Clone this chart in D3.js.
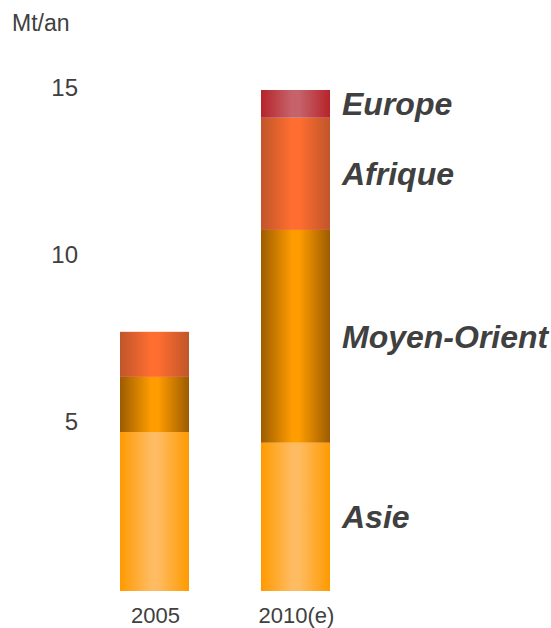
<!DOCTYPE html>
<html lang="fr">
<head>
<meta charset="UTF-8" />
<title>Mt/an</title>
<script src="https://d3js.org/d3.v7.min.js"></script>
<style>
  body { margin: 0; background: #fff; }
  text { font-family: "Liberation Sans", Arial, sans-serif; fill: #404040; }
</style>
</head>
<body>
<svg width="551" height="628"></svg>
<script>
// data (Mt/an)
var years = ["2005", "2010(e)"];
var regions = ["Asie", "Moyen-Orient", "Afrique", "Europe"];
var asie = [4.76, 4.44];
var moyenOrient = [1.65, 6.37];
var afrique = [1.35, 3.36];
var europe = [0, 0.83];
var yTicks = [5, 10, 15];

// gradient colours: [edge, centre]
var colors = {
  "Asie": ["#ff9a00", "#ffbb62"],
  "Moyen-Orient": ["#9c5c00", "#ff9c00"],
  "Afrique": ["#c0552a", "#ff6e30"],
  "Europe": ["#b6232a", "#c6636a"]
};

var table = years.map(function(y, i) {
  return { year: y, "Asie": asie[i], "Moyen-Orient": moyenOrient[i], "Afrique": afrique[i], "Europe": europe[i] };
});

var svg = d3.select("svg");

var x = d3.scaleBand().domain(years).range([120, 330]).paddingInner(72 / 141).paddingOuter(0);
var y = d3.scaleLinear().domain([0, 15]).range([591, 90]);

var defs = svg.append("defs");
regions.forEach(function(r, i) {
  var g = defs.append("linearGradient").attr("id", "grad" + i)
    .attr("x1", "0%").attr("x2", "100%").attr("y1", "0%").attr("y2", "0%");
  g.append("stop").attr("offset", "0%").attr("stop-color", colors[r][0]);
  g.append("stop").attr("offset", "45%").attr("stop-color", colors[r][1]);
  g.append("stop").attr("offset", "55%").attr("stop-color", colors[r][1]);
  g.append("stop").attr("offset", "100%").attr("stop-color", colors[r][0]);
});

var stacked = d3.stack().keys(regions)(table);

svg.append("g").selectAll("g")
  .data(stacked)
  .enter().append("g")
  .attr("fill", function(d, i) { return "url(#grad" + i + ")"; })
  .selectAll("rect")
  .data(function(d) { return d.filter(function(p) { return p[1] > p[0]; }); })
  .enter().append("rect")
  .attr("x", function(d) { return x(d.data.year); })
  .attr("y", function(d) { return y(d[1]); })
  .attr("width", x.bandwidth())
  .attr("height", function(d) { return y(d[0]) - y(d[1]); });

// segment labels beside the 2010 bar
svg.append("g").selectAll("text")
  .data(stacked)
  .enter().append("text")
  .attr("x", 342)
  .attr("y", function(d) { var p = d[1]; return y((p[0] + p[1]) / 2); })
  .attr("dy", "0.36em")
  .style("font-size", "32px")
  .style("font-weight", "bold")
  .style("font-style", "italic")
  .text(function(d) { return d.key; });

// y tick labels
svg.append("g").selectAll("text")
  .data(yTicks)
  .enter().append("text")
  .attr("x", 78)
  .attr("y", function(d) { return y(d) - 3; })
  .attr("dy", "0.36em")
  .attr("text-anchor", "end")
  .style("font-size", "24px")
  .text(function(d) { return d; });

svg.append("text")
  .attr("x", 12)
  .attr("y", 31)
  .style("font-size", "23px")
  .text("Mt/an");

// x labels
svg.append("g").selectAll("text")
  .data(years)
  .enter().append("text")
  .attr("x", function(d) { return x(d) + x.bandwidth() / 2 + 1; })
  .attr("y", 623)
  .attr("text-anchor", "middle")
  .style("font-size", "22px")
  .text(function(d) { return d; });
</script>
</body>
</html>
